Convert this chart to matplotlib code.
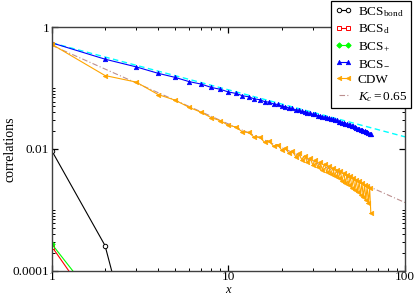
import numpy as np
import matplotlib
matplotlib.use("Agg")
import matplotlib.pyplot as plt
from matplotlib.ticker import FixedLocator, NullFormatter, LogLocator

plt.rcParams['font.family'] = ['Liberation Serif', 'DejaVu Serif']
plt.rcParams['mathtext.fontset'] = 'custom'
plt.rcParams['mathtext.rm'] = 'Liberation Serif'
plt.rcParams['mathtext.it'] = 'Liberation Serif:italic'

# 데이터
x_all = np.arange(1, 65)

bond_x = [1, 2, 3]
bond_y = [0.0093, 0.00026, 0.000003]

d_x = [1, 2]
d_y = [0.00025, 0.000014]

plus_x = [1, 2]
plus_y = [0.000275, 0.000021]

bcs_minus = [0.55, 0.297, 0.222, 0.174, 0.149, 0.127, 0.116, 0.102, 0.0952, 0.0859,
             0.0816, 0.0747, 0.0717, 0.0663, 0.0643, 0.0599, 0.0584, 0.0546, 0.0536, 0.0504,
             0.0496, 0.0468, 0.0462, 0.0438, 0.0434, 0.0412, 0.0409, 0.0389, 0.0387, 0.0369,
             0.0368, 0.0351, 0.0351, 0.0335, 0.0335, 0.0321, 0.0321, 0.0307, 0.0308, 0.0295,
             0.0293, 0.0281, 0.0280, 0.0268, 0.0267, 0.0256, 0.0255, 0.0246, 0.0244, 0.0235,
             0.0234, 0.0225, 0.0224, 0.0216, 0.0216, 0.0207, 0.0207, 0.0200, 0.0198, 0.0193,
             0.0188, 0.0183, 0.0179, 0.0175]

cdw = [0.52, 0.16, 0.125, 0.078, 0.063, 0.048, 0.040, 0.0325, 0.0291, 0.0243,
       0.0230, 0.0190, 0.0187, 0.0155, 0.0157, 0.0129, 0.0135, 0.0111, 0.0118, 0.0096,
       0.0104, 0.00842, 0.00934, 0.00748, 0.00846, 0.00670, 0.00772, 0.00604, 0.00710, 0.00550,
       0.00657, 0.00502, 0.00610, 0.00460, 0.00565, 0.00422, 0.00527, 0.00389, 0.00491, 0.00359,
       0.00460, 0.00330, 0.00431, 0.00303, 0.00404, 0.00278, 0.00379, 0.00254, 0.00355, 0.00232,
       0.00335, 0.00212, 0.00313, 0.00193, 0.00295, 0.00176, 0.00277, 0.00161, 0.00259, 0.00146,
       0.00244, 0.00131, 0.00231, 0.00090]

# 멱법칙 피팅선 (로그-로그에서 직선, 양 끝점)
fit_x = [1, 100]
fit_bcs = [0.55, 0.0158]
fit_cdw = [0.50, 0.00132]

fig = plt.figure(figsize=(4.15, 2.97), dpi=100)
ax = fig.add_axes([0.125, 0.088, 0.851, 0.821])

ms = 3.2
ax.plot(fit_x, fit_bcs, color='cyan', lw=1.0, dashes=(4, 2.5), zorder=1)
ax.plot(bond_x, bond_y, color='black', lw=0.8, marker='o', ms=ms, mfc='white', mew=0.7,
        label=r'BCS$_{\rm bond}$')
ax.plot(d_x, d_y, color='red', lw=0.8, marker='s', ms=ms, mfc='white', mew=0.7,
        label=r'BCS$_{\rm d}$')
ax.plot(plus_x, plus_y, color='#00ff00', lw=0.8, marker='D', ms=ms - 0.5, mew=0.7,
        label=r'BCS$_{+}$')
ax.plot(x_all, bcs_minus, color='blue', lw=0.8, marker='^', ms=ms, mew=0.5,
        label=r'BCS$_{-}$')
ax.plot(x_all, cdw, color='orange', lw=0.8, marker='<', ms=ms, mew=0.5,
        label='CDW')
ax.plot(fit_x, fit_cdw, color='#bc8f8f', lw=0.8, dashes=(5, 2, 1, 2),
        label=r'$K_c\mathit{=0.65}$', zorder=1)

ax.set_xscale('log')
ax.set_yscale('log')
ax.set_xlim(1, 100)
ax.set_ylim(1e-4, 1)

ax.xaxis.set_major_locator(FixedLocator([1, 10, 100]))
ax.set_xticklabels(['1', '10', '100'])
ax.xaxis.set_minor_locator(LogLocator(base=10, subs=np.arange(2, 10)))
ax.xaxis.set_minor_formatter(NullFormatter())

ax.yaxis.set_major_locator(FixedLocator([1e-4, 1e-2, 1]))
ax.set_yticklabels(['0.0001', '0.01', '1'])
yminor = [k * 1e-4 for k in range(2, 11)] + [k * 1e-2 for k in range(2, 11)]
ax.yaxis.set_minor_locator(FixedLocator(yminor))
ax.yaxis.set_minor_formatter(NullFormatter())

ax.tick_params(which='both', direction='in', top=True, right=True, labelsize=9.5, pad=2)
ax.tick_params(axis='x', which='major', pad=0.3)
ax.tick_params(which='major', length=4.5, width=0.9)
ax.tick_params(which='minor', length=2.5, width=0.7)
for s in ax.spines.values():
    s.set_linewidth(1.0)
    s.set_color('#404040')

ax.set_xlabel('$x$', fontsize=9, va='baseline')
ax.xaxis.set_label_coords(0.5, -0.092)
ax.set_ylabel('correlations', fontsize=10)
ax.yaxis.set_label_coords(-0.1, 0.5)

leg = ax.legend(loc='upper right', bbox_to_anchor=(0.99, 0.997), bbox_transform=fig.transFigure,
                numpoints=2, handlelength=1.3, handletextpad=0.4, fontsize=9.5,
                labelspacing=0.3, borderpad=0.3, fancybox=False, framealpha=1,
                borderaxespad=0)
leg.get_frame().set_edgecolor('black')
leg.get_frame().set_linewidth(0.9)

fig.savefig('out.png', dpi=100)
